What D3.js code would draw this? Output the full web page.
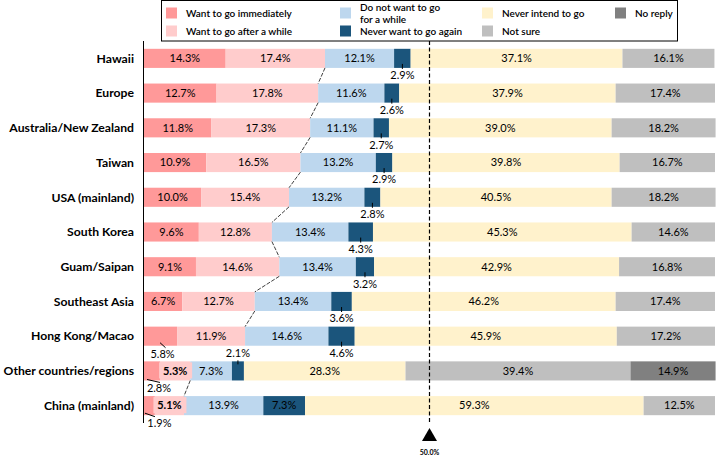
<!DOCTYPE html>
<html>
<head>
<meta charset="utf-8">
<script src="https://cdn.jsdelivr.net/npm/d3@7"></script>
<style>
  html, body { margin: 0; padding: 0; background: #fff; }
  svg { display: block; font-family: Lato, "Open Sans", sans-serif; }
</style>
</head>
<body>
<svg id="chart" width="722" height="461"></svg>
<script>
// ---------- DATA ----------
const categories = ["Hawaii", "Europe", "Australia/New Zealand", "Taiwan", "USA (mainland)",
  "South Korea", "Guam/Saipan", "Southeast Asia", "Hong Kong/Macao",
  "Other countries/regions", "China (mainland)"];
const seriesNames = ["Want to go immediately", "Want to go after a while",
  "Do not want to go for a while", "Never want to go again",
  "Never intend to go", "Not sure", "No reply"];
const wantImmediately = [14.3, 12.7, 11.8, 10.9, 10.0, 9.6, 9.1, 6.7, 5.8, 2.8, 1.9];
const wantAfterWhile  = [17.4, 17.8, 17.3, 16.5, 15.4, 12.8, 14.6, 12.7, 11.9, 5.3, 5.1];
const notForWhile     = [12.1, 11.6, 11.1, 13.2, 13.2, 13.4, 13.4, 13.4, 14.6, 7.3, 13.9];
const neverAgain      = [2.9, 2.6, 2.7, 2.9, 2.8, 4.3, 3.2, 3.6, 4.6, 2.1, 7.3];
const neverIntend     = [37.1, 37.9, 39.0, 39.8, 40.5, 45.3, 42.9, 46.2, 45.9, 28.3, 59.3];
const notSure         = [16.1, 17.4, 18.2, 16.7, 18.2, 14.6, 16.8, 17.4, 17.2, 39.4, 12.5];
const noReply         = [0, 0, 0, 0, 0, 0, 0, 0, 0, 14.9, 0];
const referenceValue = 50.0;
const referenceLabel = "50.0%";

// ---------- STYLE ----------
const colors = ["#FF9999", "#FFCCCC", "#BDD7EE", "#1B557C", "#FFF2CC", "#BFBFBF", "#808080"];
const seriesData = [wantImmediately, wantAfterWhile, notForWhile, neverAgain, neverIntend, notSure, noReply];

const svg = d3.select("#chart");
const x = d3.scaleLinear().domain([0, 100]).range([144, 715]);
const y = d3.scaleBand().domain(categories).range([41, 423]).paddingInner(0.45).paddingOuter(0.225);
const bw = y.bandwidth();

// stacked rows
const rows = categories.map((c, i) => {
  const o = { cat: c };
  seriesNames.forEach((s, k) => o[s] = seriesData[k][i]);
  return o;
});
const stacked = d3.stack().keys(seriesNames)(rows);

// bars
const layers = svg.append("g").selectAll("g").data(stacked).join("g")
  .attr("fill", (d, k) => colors[k]);
layers.selectAll("rect").data(d => d.map(v => ({ v, cat: v.data.cat })))
  .join("rect")
  .attr("x", d => x(d.v[0]))
  .attr("y", d => y(d.cat))
  .attr("width", d => Math.max(0, x(d.v[1]) - x(d.v[0])))
  .attr("height", bw);

// series lines (cumulative "want to go") between consecutive bars
const wantCum = categories.map((c, i) => wantImmediately[i] + wantAfterWhile[i]);
const lineG = svg.append("g");
for (let i = 0; i < categories.length - 1; i++) {
  if (categories[i] === "Hong Kong/Macao") continue;
  lineG.append("line")
    .attr("x1", x(wantCum[i])).attr("y1", y(categories[i]) + bw)
    .attr("x2", x(wantCum[i + 1])).attr("y2", y(categories[i + 1]))
    .attr("stroke", "#404040").attr("stroke-width", 1)
    .attr("stroke-dasharray", "4,1.5");
}

// axis line
svg.append("line").attr("x1", 143.5).attr("x2", 143.5).attr("y1", 41).attr("y2", 423)
  .attr("stroke", "#000").attr("stroke-width", 1);

// category labels
svg.append("g").selectAll("text").data(categories).join("text")
  .attr("x", 134).attr("y", d => y(d) + bw / 2)
  .attr("dy", "0.35em").attr("text-anchor", "end")
  .attr("font-size", 12.2).attr("font-weight", "bold").attr("fill", "#000")
  .text(d => d);

// value labels
const fmt = v => v.toFixed(1) + "%";
const special = {
  "Hong Kong/Macao|0": { mode: "below", dx: 2, leader: [[-0.5, -3], [5, 2]] },
  "Other countries/regions|0": { mode: "below", dx: 7, leader: [[-5, -1], [8, 2]] },
  "China (mainland)|0": { mode: "below", dx: 10, leader: [[-4.5, -2], [5.5, 1.5]] },
  "Other countries/regions|1": { mode: "box" },
  "China (mainland)|1": { mode: "box" },
  "Other countries/regions|3": { mode: "above" },
  "China (mainland)|3": { mode: "inside" }
};
const labG = svg.append("g").attr("font-size", 11).attr("fill", "#000");
stacked.forEach((layer, k) => {
  layer.forEach(v => {
    const val = v.data[seriesNames[k]];
    if (!val) return;
    const cat = v.data.cat;
    const cx = (x(v[0]) + x(v[1])) / 2;
    const top = y(cat), bot = top + bw;
    let sp = special[cat + "|" + k];
    if (!sp && k === 3) sp = { mode: "below-tick" };
    if (!sp) sp = { mode: "inside" };
    if (sp.mode === "inside") {
      labG.append("text").attr("x", cx).attr("y", top + bw / 2).attr("dy", "0.35em")
        .attr("text-anchor", "middle").text(fmt(val));
    } else if (sp.mode === "below-tick") {
      labG.append("line").attr("x1", cx).attr("x2", cx).attr("y1", bot - 4).attr("y2", bot + 1)
        .attr("stroke", "#000").attr("stroke-width", 1);
      labG.append("text").attr("x", cx).attr("y", bot + 7.5).attr("dy", "0.35em")
        .attr("text-anchor", "middle").text(fmt(val));
    } else if (sp.mode === "above") {
      labG.append("line").attr("x1", cx).attr("x2", cx).attr("y1", top - 1).attr("y2", top + 3)
        .attr("stroke", "#000").attr("stroke-width", 1);
      labG.append("text").attr("x", cx).attr("y", top - 8).attr("dy", "0.35em")
        .attr("text-anchor", "middle").text(fmt(val));
    } else if (sp.mode === "below") {
      const [[a1, b1], [a2, b2]] = sp.leader;
      labG.append("line")
        .attr("x1", cx + a1).attr("y1", bot + b1).attr("x2", cx + a2).attr("y2", bot + b2)
        .attr("stroke", "#000").attr("stroke-width", 1);
      labG.append("text").attr("x", cx + sp.dx).attr("y", bot + 8).attr("dy", "0.35em")
        .attr("text-anchor", "middle").text(fmt(val));
    } else if (sp.mode === "box") {
      labG.append("rect").attr("x", cx - 16).attr("y", top + 1).attr("width", 33).attr("height", bw - 3)
        .attr("fill", colors[1]);
      labG.append("text").attr("x", cx).attr("y", top + bw / 2).attr("dy", "0.35em")
        .attr("text-anchor", "middle").attr("font-weight", "bold").text(fmt(val));
    }
  });
});

// reference line at 50%
const rx = x(referenceValue);
svg.append("line").attr("x1", rx).attr("x2", rx).attr("y1", 41).attr("y2", 423)
  .attr("stroke", "#000").attr("stroke-width", 1.2).attr("stroke-dasharray", "4,2.5");
svg.append("path")
  .attr("d", `M${rx},428 L${rx + 7.5},441 L${rx - 7.5},441 Z`).attr("fill", "#000");
svg.append("text").attr("x", rx).attr("y", 455).attr("text-anchor", "middle")
  .attr("font-size", 7).attr("font-weight", "bold").attr("fill", "#000").text(referenceLabel);

// legend
const lg = svg.append("g");
lg.append("rect").attr("x", 161.5).attr("y", 0.5).attr("width", 516).attr("height", 40.5)
  .attr("fill", "#fff").attr("stroke", "#000").attr("stroke-width", 1);
const legendLayout = [
  { col: 0, row: 0 }, { col: 0, row: 1 }, { col: 1, row: 0 }, { col: 1, row: 1 },
  { col: 2, row: 0 }, { col: 2, row: 1 }, { col: 3, row: 0 }
];
const colX = [166, 340, 482, 615];
const rowY = [13, 31];
const legendLabels = [["Want to go immediately"], ["Want to go after a while"],
  ["Do not want to go", "for a while"], ["Never want to go again"],
  ["Never intend to go"], ["Not sure"], ["No reply"]];
seriesNames.forEach((s, k) => {
  const L = legendLayout[k];
  const sx = colX[L.col], sy = rowY[L.row];
  lg.append("rect").attr("x", sx).attr("y", sy - 5.5).attr("width", 11).attr("height", 11)
    .attr("fill", colors[k]);
  const lines = legendLabels[k];
  const t = lg.append("text").attr("x", sx + 20).attr("font-size", 10).attr("fill", "#000")
    .attr("font-weight", 600);
  lines.forEach((ln, j) => {
    t.append("tspan").attr("x", sx + 20)
      .attr("y", sy + (j - (lines.length - 1) / 2) * 12)
      .attr("dy", "0.35em").text(ln);
  });
});
</script>
</body>
</html>
